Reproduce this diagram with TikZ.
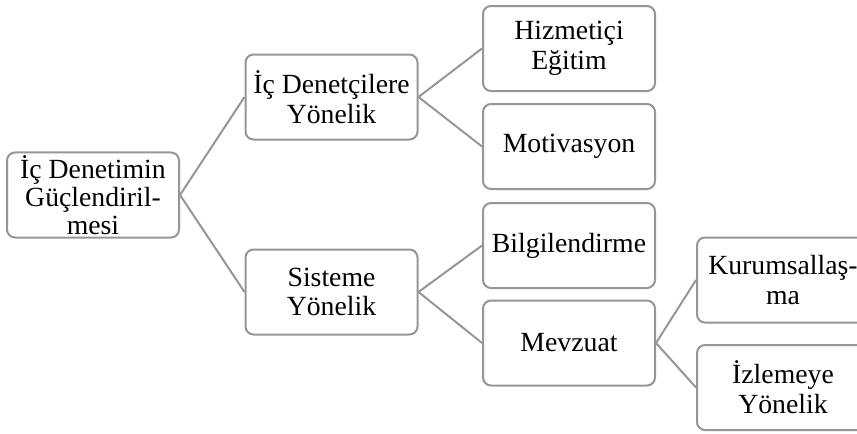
\documentclass[tikz,border=0pt]{standalone}
\usepackage{fontspec}
\setmainfont{Liberation Serif}
\definecolor{edgegray}{RGB}{150,150,150}
\tikzset{
  box/.style={draw=edgegray, line width=1.5pt, rounded corners=6pt, fill=white,
    minimum width=129pt, minimum height=63.75pt, inner sep=2pt, align=center,
    font=\fontsize{20.8}{21.2}\selectfont},
  pairbox/.style={box, font=\fontsize{20.8}{22.4}\selectfont},
  link/.style={draw=edgegray, line width=1.5pt}
}
\begin{document}
\begin{tikzpicture}[x=0.75pt, y=-0.75pt]
  \useasboundingbox (0,0) rectangle (857,433);
  \clip (0,0) rectangle (857,433);
  % first level
  \node[box] (root) at (93,195) {İç Denetimin\\Güçlendiril-\\mesi};
  % second level
  \node[pairbox] (ic)  at (331.5,97)  {İç Denetçilere\\Yönelik};
  \node[pairbox] (sis) at (331.5,292) {Sisteme\\Yönelik};
  % third level
  \node[pairbox] (hiz) at (569,48.5)  {Hizmetiçi\\Eğitim};
  \node[box] (mot) at (569,146.5) {Motivasyon};
  \node[box] (bil) at (569,245.5) {Bilgilendirme};
  \node[box] (mev) at (569,343)   {Mevzuat};
  % fourth level
  \node[pairbox] (kur) at (783,280)   {Kurumsallaş-\\ma};
  \node[pairbox] (izl) at (783,387.5) {İzlemeye\\Yönelik};
  % connectors
  \draw[link] (root.east) -- (ic.west);
  \draw[link] (root.east) -- (sis.west);
  \draw[link] (ic.east) -- (hiz.west);
  \draw[link] (ic.east) -- (mot.west);
  \draw[link] (sis.east) -- (bil.west);
  \draw[link] (sis.east) -- (mev.west);
  \draw[link] (mev.east) -- (kur.west);
  \draw[link] (mev.east) -- (izl.west);
\end{tikzpicture}
\end{document}
